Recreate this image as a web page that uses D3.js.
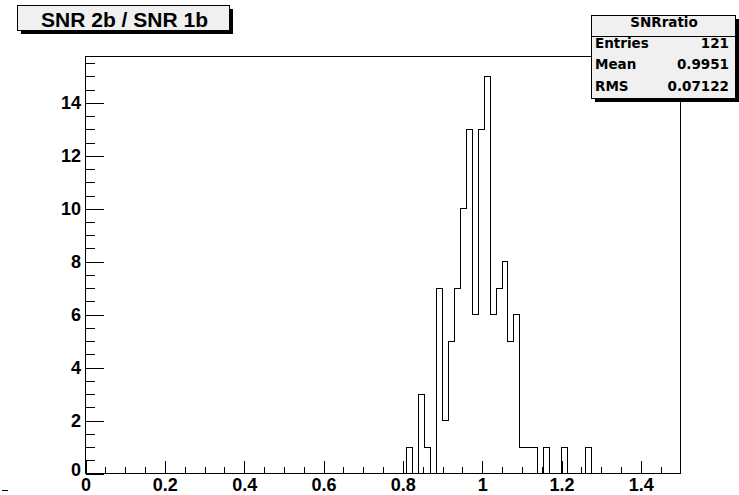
<!DOCTYPE html>
<html>
<head>
<meta charset="utf-8">
<script src="https://cdn.jsdelivr.net/npm/d3@7"></script>
<style>
  html, body { margin: 0; padding: 0; background: #fff; }
  svg { display: block; }
  .axis text { font-family: "Liberation Sans", Arial, sans-serif; font-weight: bold; fill: #000; }
  .axis line, .axis path { stroke: #000; shape-rendering: crispEdges; }
</style>
</head>
<body>
<svg id="chart" width="739" height="495"></svg>
<script>
// Histogram "SNRratio": 100 bins over [0, 1.5]
const histName = "SNRratio";
const histTitle = "SNR 2b / SNR 1b";
const xMin = 0, xMax = 1.5, nBins = 100;
const firstFilledBin = 54;
const binCounts = [1, 0, 3, 1, 0, 7, 2, 5, 7, 10, 13, 6, 13, 15, 6, 7, 8, 5, 6, 1, 1, 1, 0, 1, 0, 0, 1, 0, 0, 0, 1];
const xTickLabels = [0, 0.2, 0.4, 0.6, 0.8, 1, 1.2, 1.4];
const yTickLabels = [0, 2, 4, 6, 8, 10, 12, 14];
const statLabels = ["Entries", "Mean", "RMS"];

const svg = d3.select("#chart");
const frame = { left: 85.5, right: 680.5, top: 56.5, bottom: 473.5 };
const binWidth = (xMax - xMin) / nBins;

// full list of bin contents
const contents = d3.range(nBins).map(i => {
  const k = i - firstFilledBin;
  return (k >= 0 && k < binCounts.length) ? binCounts[k] : 0;
});
const yMaxPlot = d3.max(contents) * 1.05;

const x = d3.scaleLinear().domain([xMin, xMax]).range([frame.left, frame.right]);
const y = d3.scaleLinear().domain([0, yMaxPlot]).range([frame.bottom, frame.top]);

// statistics from bin centres
const centres = contents.map((c, i) => xMin + (i + 0.5) * binWidth);
const entries = d3.sum(contents);
const mean = d3.sum(contents, (c, i) => c * centres[i]) / entries;
const rms = Math.sqrt(d3.sum(contents, (c, i) => c * (centres[i] - mean) ** 2) / entries);
const statValues = [String(entries), d3.format(".4r")(mean), d3.format(".4r")(rms)];

// x axis: major and minor ticks pointing into the frame
const xMinor = d3.range(0, 1.5, 0.05).filter(v => Math.abs(v / 0.2 - Math.round(v / 0.2)) > 1e-6);
svg.append("g").attr("class", "axis")
  .attr("transform", `translate(0,${frame.bottom})`)
  .call(d3.axisBottom(x).tickValues(xMinor).tickSize(-6.5).tickSizeOuter(0).tickFormat(""))
  .call(g => g.select(".domain").remove());
svg.append("g").attr("class", "axis xmajor")
  .attr("transform", `translate(0,${frame.bottom})`)
  .call(d3.axisBottom(x).tickValues(xTickLabels).tickSize(-12.5).tickSizeOuter(0).tickPadding(5)
        .tickFormat(d3.format("~g")))
  .call(g => g.select(".domain").remove())
  .call(g => g.selectAll("text").style("font-size", "18px"));

// y axis
const yMinor = d3.range(0, yMaxPlot, 0.5).filter(v => v % 2 !== 0);
svg.append("g").attr("class", "axis")
  .attr("transform", `translate(${frame.left},0)`)
  .call(d3.axisLeft(y).tickValues(yMinor).tickSize(-9).tickSizeOuter(0).tickFormat(""))
  .call(g => g.select(".domain").remove());
svg.append("g").attr("class", "axis ymajor")
  .attr("transform", `translate(${frame.left},0)`)
  .call(d3.axisLeft(y).tickValues(yTickLabels).tickSize(-18).tickSizeOuter(0).tickPadding(4.5)
        .tickFormat(d3.format("d")))
  .call(g => g.select(".domain").remove())
  .call(g => g.selectAll("text").style("font-size", "18px"))
  // the zero label sits a little higher so it clears the x labels
  .call(g => g.selectAll(".tick").filter(d => d === 0).select("text").attr("dy", "0.1em"));

// frame
svg.append("rect")
  .attr("x", frame.left).attr("y", frame.top)
  .attr("width", frame.right - frame.left).attr("height", frame.bottom - frame.top)
  .attr("fill", "none").attr("stroke", "#000").attr("shape-rendering", "crispEdges");

// histogram outline
const stepPts = contents.map((c, i) => [xMin + i * binWidth, c]);
stepPts.push([xMax, contents[nBins - 1]]);
const histLine = d3.line()
  .x(d => x(d[0]))
  .y(d => y(d[1]))
  .curve(d3.curveStepAfter);
svg.append("path")
  .attr("d", histLine(stepPts))
  .attr("fill", "none").attr("stroke", "#000").attr("stroke-width", 1)
  .attr("shape-rendering", "crispEdges");

// title box with shadow
const tb = { x: 17.5, y: 5.5, w: 212, h: 25 };
svg.append("rect").attr("x", tb.x + 3).attr("y", tb.y + 3).attr("width", tb.w).attr("height", tb.h)
  .attr("fill", "#000").attr("shape-rendering", "crispEdges");
svg.append("rect").attr("x", tb.x).attr("y", tb.y).attr("width", tb.w).attr("height", tb.h)
  .attr("fill", "#f0f0f0").attr("stroke", "#000").attr("shape-rendering", "crispEdges");
svg.append("text")
  .attr("x", 124.5).attr("y", 27.3)
  .attr("text-anchor", "middle")
  .attr("textLength", 167).attr("lengthAdjust", "spacingAndGlyphs")
  .style("font-family", "Liberation Sans, Arial, sans-serif")
  .style("font-weight", "bold").style("font-size", "20px")
  .text(histTitle);

// statistics box
const sb = { x: 591.5, y: 15.5, w: 144, h: 83 };
svg.append("rect").attr("x", sb.x + 3).attr("y", sb.y + 3).attr("width", sb.w).attr("height", sb.h)
  .attr("fill", "#000").attr("shape-rendering", "crispEdges");
svg.append("rect").attr("x", sb.x).attr("y", sb.y).attr("width", sb.w).attr("height", sb.h)
  .attr("fill", "#f0f0f0").attr("stroke", "#000").attr("shape-rendering", "crispEdges");
svg.append("line")
  .attr("x1", sb.x).attr("x2", sb.x + sb.w).attr("y1", 36.5).attr("y2", 36.5)
  .attr("stroke", "#000").attr("shape-rendering", "crispEdges");
const statFont = g => g.style("font-family", "DejaVu Sans, sans-serif")
  .style("font-weight", "bold").style("font-size", "13.5px").attr("fill", "#000");
svg.append("text").attr("x", 664).attr("y", 26.7).attr("text-anchor", "middle")
  .call(statFont).text(histName);
const rowBase = [47.7, 69.3, 91];
statLabels.forEach((lab, i) => {
  svg.append("text").attr("x", 595).attr("y", rowBase[i]).call(statFont).text(lab);
  svg.append("text").attr("x", 729).attr("y", rowBase[i]).attr("text-anchor", "end")
    .call(statFont).text(statValues[i]);
});

// small mark at the lower-left edge of the canvas
svg.append("line").attr("x1", 2).attr("x2", 8).attr("y1", 490.5).attr("y2", 490.5)
  .attr("stroke", "#000").attr("shape-rendering", "crispEdges");
</script>
</body>
</html>
